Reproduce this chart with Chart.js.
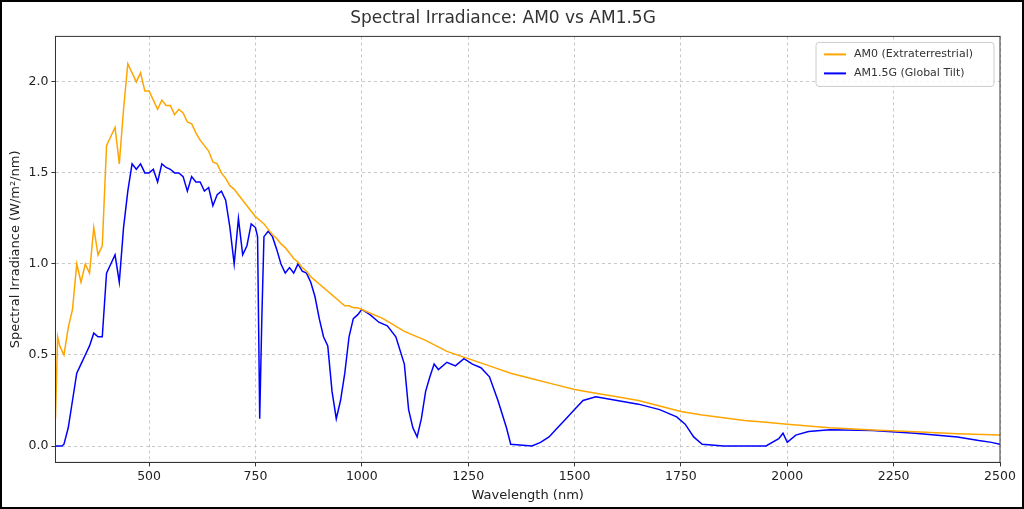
<!DOCTYPE html>
<html><head><script src="https://cdn.jsdelivr.net/npm/chart.js@4"></script>
<style>html,body{margin:0;padding:0;background:#fff}#w{width:1020px;height:505px;border:2px solid #000;position:relative}</style></head>
<body><div id="w"><canvas id="c"></canvas></div>
<script>
const am0Wl=[280,285,290,300,310,320,330,340,350,360,370,380,390,400,410,420,430,440,450,460,470,480,490,500,510,520,530,540,550,560,570,580,590,600,610,620,630,640,650,660,670,680,690,700,710,720,730,740,750,760,770,780,790,800,810,820,830,840,850,860,870,880,890,900,910,920,930,940,950,960,970,980,990,1000,1050,1100,1150,1200,1250,1300,1350,1400,1450,1500,1550,1600,1650,1700,1750,1800,1850,1900,1950,2000,2100,2200,2300,2400,2500];
const am0Val=[0.15,0.6,0.55,0.5,0.65,0.75,1.0,0.9,1.0,0.95,1.2,1.05,1.1,1.65,1.7,1.75,1.55,1.85,2.1,2.05,2.0,2.05,1.95,1.95,1.9,1.85,1.9,1.87,1.87,1.82,1.85,1.83,1.78,1.77,1.72,1.68,1.65,1.62,1.56,1.55,1.5,1.47,1.43,1.41,1.38,1.35,1.32,1.29,1.26,1.24,1.22,1.19,1.16,1.14,1.11,1.09,1.06,1.03,1.01,0.98,0.96,0.93,0.91,0.89,0.87,0.85,0.83,0.81,0.79,0.77,0.77,0.76,0.76,0.75,0.70,0.63,0.58,0.52,0.48,0.44,0.40,0.37,0.34,0.31,0.29,0.27,0.25,0.22,0.19,0.17,0.155,0.14,0.13,0.12,0.10,0.088,0.078,0.068,0.06];
const amgWl=[280,295,300,310,320,330,340,350,360,370,380,390,400,410,420,430,440,450,460,470,480,490,500,510,520,530,540,550,560,570,580,590,600,610,620,630,640,650,660,670,680,690,700,710,720,730,740,750,755,760,765,770,780,790,800,810,820,830,840,850,860,870,880,890,900,910,920,930,940,950,960,970,980,990,1000,1020,1040,1060,1080,1100,1110,1120,1130,1140,1150,1160,1170,1180,1200,1220,1240,1260,1280,1300,1320,1340,1350,1400,1420,1440,1460,1480,1500,1520,1550,1600,1650,1700,1740,1760,1780,1800,1850,1950,1980,1990,2000,2020,2050,2100,2200,2300,2400,2450,2480,2500];
const amgVal=[0,0,0.01,0.1,0.25,0.4,0.45,0.5,0.55,0.62,0.6,0.6,0.95,1.0,1.05,0.9,1.2,1.4,1.55,1.52,1.55,1.5,1.5,1.52,1.45,1.55,1.53,1.52,1.5,1.5,1.48,1.4,1.48,1.45,1.45,1.4,1.42,1.32,1.38,1.4,1.35,1.2,1.0,1.25,1.05,1.1,1.22,1.2,1.15,0.15,0.7,1.15,1.18,1.15,1.08,1.0,0.95,0.98,0.95,1.0,0.96,0.95,0.9,0.82,0.7,0.6,0.55,0.3,0.15,0.25,0.4,0.6,0.7,0.72,0.75,0.72,0.68,0.66,0.6,0.45,0.2,0.1,0.05,0.15,0.3,0.38,0.45,0.42,0.46,0.44,0.48,0.45,0.43,0.38,0.25,0.1,0.01,0,0.02,0.05,0.1,0.15,0.2,0.25,0.27,0.25,0.23,0.2,0.16,0.12,0.05,0.01,0,0,0.04,0.07,0.02,0.06,0.08,0.09,0.085,0.07,0.05,0.03,0.02,0.01];
const xTicks=[500,750,1000,1250,1500,1750,2000,2250,2500];
const yTicks=[0,0.5,1.0,1.5,2.0];
const labels=['AM0 (Extraterrestrial)','AM1.5G (Global Tilt)'];
const colors=['#FFA500','#0000FF'];
const F='DejaVu Sans';
const legendPlugin={id:'lg',afterDraw(ch){const a=ch.chartArea,c=ch.ctx;c.save();c.strokeStyle='#333';c.lineWidth=1;c.strokeRect(a.left,a.top,a.right-a.left,a.bottom-a.top);const w=178,h=44,x=a.right-w-6,y=a.top+6;c.fillStyle='rgba(255,255,255,0.85)';c.strokeStyle='#ccc';c.beginPath();c.roundRect(x,y,w,h,3);c.fill();c.stroke();c.font='11px '+F;c.textBaseline='middle';labels.forEach((l,i)=>{const yy=y+12+i*19;c.strokeStyle=colors[i];c.lineWidth=2;c.beginPath();c.moveTo(x+8,yy);c.lineTo(x+30,yy);c.stroke();c.fillStyle='#333';c.fillText(l,x+38,yy);});c.restore();}};
new Chart(document.getElementById('c'),{type:'line',
data:{datasets:[
{label:labels[0],data:am0Wl.map((x,i)=>({x,y:am0Val[i]})),borderColor:colors[0],borderWidth:1.5,pointRadius:0,tension:0},
{label:labels[1],data:amgWl.map((x,i)=>({x,y:amgVal[i]})),borderColor:colors[1],borderWidth:1.5,pointRadius:0,tension:0}]},
options:{responsive:true,maintainAspectRatio:false,animation:false,
layout:{padding:{left:4,right:22,top:4,bottom:4}},
plugins:{legend:{display:false},tooltip:{enabled:false},title:{display:true,text:'Spectral Irradiance: AM0 vs AM1.5G',color:'#333',font:{family:F,size:17,weight:'normal'},padding:{top:2,bottom:8}}},
scales:{x:{type:'linear',min:280,max:2500,afterBuildTicks:s=>{s.ticks=xTicks.map(v=>({value:v}));},
title:{display:true,text:'Wavelength (nm)',color:'#222',font:{family:F,size:13},padding:0},
ticks:{color:'#222',font:{family:F,size:12.5},maxRotation:0,callback:v=>String(v)},grid:{color:'#c8c8c8',tickColor:'#333',tickLength:4},border:{color:'#333',dash:[3,3]}},
y:{min:-0.09,max:2.25,afterBuildTicks:s=>{s.ticks=yTicks.map(v=>({value:v}));},
title:{display:true,text:'Spectral Irradiance (W/m²/nm)',color:'#222',font:{family:F,size:13},padding:2},
ticks:{color:'#222',font:{family:F,size:12.5},callback:v=>v.toFixed(1)},grid:{color:'#c8c8c8',tickColor:'#333',tickLength:4},border:{color:'#333',dash:[3,3]}}}},
plugins:[legendPlugin]});
</script></body></html>
